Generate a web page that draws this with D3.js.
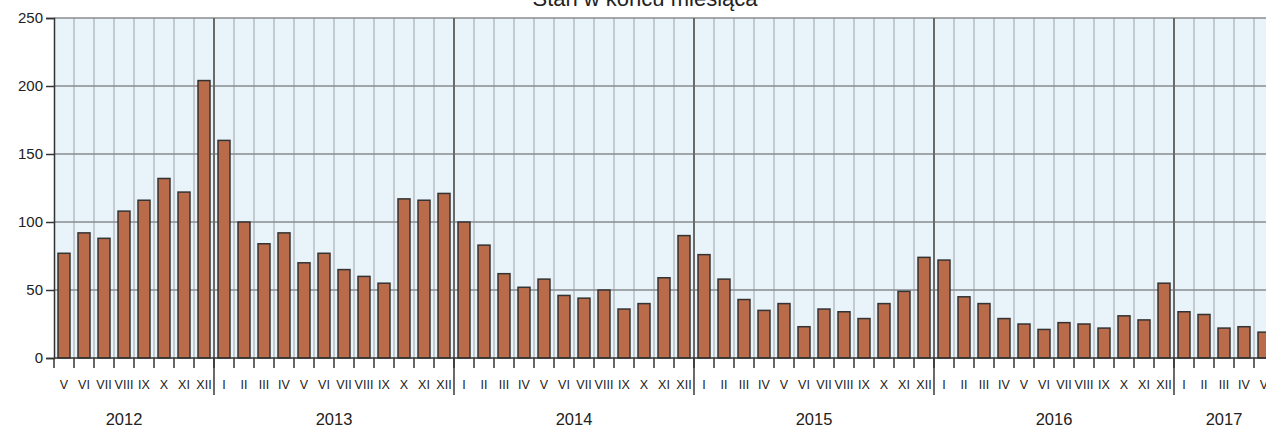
<!DOCTYPE html>
<html>
<head>
<meta charset="utf-8">
<script src="https://cdn.jsdelivr.net/npm/d3@7"></script>
<style>
  body { margin: 0; background: #fff; }
  svg { display: block; font-family: "Liberation Sans", Arial, sans-serif; }
</style>
</head>
<body>
<div id="chart"></div>
<script>
// months shown, by year
const years = ["2012", "2013", "2014", "2015", "2016", "2017"];
const romans = ["I", "II", "III", "IV", "V", "VI", "VII", "VIII", "IX", "X", "XI", "XII"];
const firstMonth = 5;   // V 2012
const lastMonth = 5;    // V 2017

// stan w końcu miesiąca
const values = [
  77, 92, 88, 108, 116, 132, 122, 204,
  160, 100, 84, 92, 70, 77, 65, 60, 55, 117, 116, 121,
  100, 83, 62, 52, 58, 46, 44, 50, 36, 40, 59, 90,
  76, 58, 43, 35, 40, 23, 36, 34, 29, 40, 49, 74,
  72, 45, 40, 29, 25, 21, 26, 25, 22, 31, 28, 55,
  34, 32, 22, 23, 19
];
const yTicks = [0, 50, 100, 150, 200, 250];
const title = "Stan w końcu miesiąca";

const W = 1266, H = 427;
const margin = {top: 18, left: 54, bottom: 69};
const slot = 20;

// build month records
let data = [];
let k = 0;
years.forEach((yr, yi) => {
  let from = yi == 0 ? firstMonth : 1;
  let to = yi == years.length - 1 ? lastMonth : 12;
  for (let m = from; m <= to; m++) {
    data.push({id: yr + "-" + m, year: yr, label: romans[m - 1], value: values[k++]});
  }
});

const svg = d3.select("#chart").append("svg")
  .attr("width", W)
  .attr("height", H);

let x = d3.scaleBand()
  .domain(data.map(d => d.id))
  .range([margin.left, margin.left + data.length * slot]);

let y = d3.scaleLinear()
  .domain([0, 250])
  .range([H - margin.bottom, margin.top]);

const x0 = margin.left, x1 = margin.left + data.length * slot;

// background
svg.append("rect")
  .attr("x", x0).attr("y", y(250))
  .attr("width", x1 - x0).attr("height", y(0) - y(250))
  .attr("fill", "#e8f3fa");

// month grid lines
svg.append("g").selectAll("line")
  .data(data.slice(1))
  .enter().append("line")
  .attr("x1", d => x(d.id)).attr("x2", d => x(d.id))
  .attr("y1", y(250)).attr("y2", y(0))
  .attr("stroke", "#b9bec2").attr("stroke-width", 1.5);

// horizontal grid
svg.append("g").selectAll("line")
  .data(yTicks.slice(1))
  .enter().append("line")
  .attr("x1", x0).attr("x2", x1)
  .attr("y1", d => y(d)).attr("y2", d => y(d))
  .attr("stroke", "#8a8d90").attr("stroke-width", 1.5);

// year separators
let yearStarts = data.filter((d, i) => i > 0 && d.label == "I");
svg.append("g").selectAll("line")
  .data(yearStarts)
  .enter().append("line")
  .attr("x1", d => x(d.id)).attr("x2", d => x(d.id))
  .attr("y1", y(250)).attr("y2", y(0) + 37)
  .attr("stroke", "#6a6a6a").attr("stroke-width", 2);

// bars
const bw = x.bandwidth();
svg.append("g").selectAll("rect")
  .data(data)
  .enter().append("rect")
  .attr("x", d => x(d.id) + bw * 0.2)
  .attr("y", d => y(d.value))
  .attr("width", bw * 0.6)
  .attr("height", d => y(0) - y(d.value))
  .attr("fill", "#b96b4a")
  .attr("stroke", "#333")
  .attr("stroke-width", 1.5);

// y axis
let yAxis = svg.append("g")
  .attr("transform", "translate(" + x0 + ",0)")
  .call(d3.axisLeft(y).tickValues(yTicks).tickSize(8).tickPadding(3));
yAxis.select(".domain").attr("stroke", "#333").attr("stroke-width", 1.5);
yAxis.selectAll(".tick line").attr("stroke", "#333").attr("stroke-width", 1.5);
yAxis.selectAll("text").attr("font-size", 15).attr("fill", "#222")
  .attr("font-family", "Liberation Sans, Arial, sans-serif");

// x baseline
svg.append("line")
  .attr("x1", x0).attr("x2", x1)
  .attr("y1", y(0)).attr("y2", y(0))
  .attr("stroke", "#333").attr("stroke-width", 1.5);

// month ticks
svg.append("g").selectAll("line")
  .data(data)
  .enter().append("line")
  .attr("x1", d => x(d.id)).attr("x2", d => x(d.id))
  .attr("y1", y(0)).attr("y2", y(0) + 10)
  .attr("stroke", "#333").attr("stroke-width", 1.5);

// month labels
svg.append("g").selectAll("text")
  .data(data)
  .enter().append("text")
  .attr("x", d => x(d.id) + bw / 2)
  .attr("y", y(0) + 31)
  .attr("text-anchor", "middle")
  .attr("font-size", 12.5)
  .attr("fill", "#222")
  .text(d => d.label);

// year labels (first, partial year sits a bit left of its months' centre)
let yearGroups = d3.groups(data, d => d.year);
svg.append("g").selectAll("text")
  .data(yearGroups)
  .enter().append("text")
  .attr("x", ([yr, ms], i) => (x(ms[0].id) + x(ms[ms.length - 1].id) + bw) / 2 - (i == 0 ? 10 : 0))
  .attr("y", H - 2)
  .attr("text-anchor", "middle")
  .attr("font-size", 16.5)
  .attr("fill", "#222")
  .text(([yr]) => yr);

// title
svg.append("text")
  .attr("x", 645)
  .attr("y", 6)
  .attr("text-anchor", "middle")
  .attr("font-size", 22)
  .attr("fill", "#222")
  .text(title);
</script>
</body>
</html>
